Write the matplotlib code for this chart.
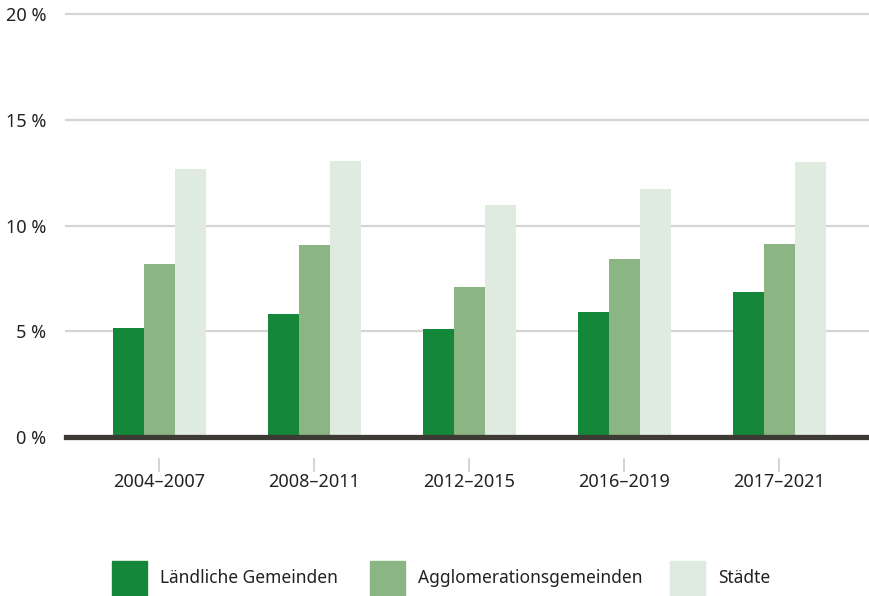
import matplotlib
matplotlib.use('Agg')
import matplotlib.pyplot as plt
import matplotlib.transforms as mtransforms
from matplotlib.patches import Rectangle
import numpy as np

plt.rcParams['font.family'] = ['Noto Sans', 'DejaVu Sans']

periods = ['2004–2007', '2008–2011', '2012–2015', '2016–2019', '2017–2021']
series_names = ['Ländliche Gemeinden', 'Agglomerationsgemeinden', 'Städte']
laendlich = [5.15, 5.82, 5.11, 5.91, 6.86]
agglo = [8.18, 9.08, 7.09, 8.42, 9.13]
staedte = [12.67, 13.05, 10.97, 11.73, 13.0]
colors = ['#15873a', '#8bb583', '#e0ebdf']

W, H = 870, 596
fig = plt.figure(figsize=(W / 100, H / 100), dpi=100)
ax = fig.add_axes([66 / W, (H - 437) / H, (870 - 66) / W, 423 / H])

x = np.arange(len(periods))
bw = 0.2
for i, (vals, c) in enumerate(zip([laendlich, agglo, staedte], colors)):
    ax.bar(x + (i - 1) * bw, vals, width=bw, color=c, zorder=2, linewidth=0)

for yv in [5, 10, 15, 20]:
    ax.axhline(yv, color='#d6d3d3', lw=1.6, zorder=1, clip_on=False)
ax.axhline(0, color='#3d3935', lw=3.8, zorder=3, clip_on=False)

ax.set_xlim(-0.6, 4.587)
ax.set_ylim(0, 20)
ax.set_yticks([0, 5, 10, 15, 20])
ax.set_yticklabels(['0 %', '5 %', '10 %', '15 %', '20 %'])
ax.set_xticks(x)
ax.set_xticklabels(periods)
ax.tick_params(axis='y', length=0, pad=14, labelsize=13, labelcolor='#222222')
ax.tick_params(axis='x', length=0, pad=26, labelsize=13, labelcolor='#222222')
for s in ax.spines.values():
    s.set_visible(False)

# small gray tick marks below the axis
trans = mtransforms.blended_transform_factory(ax.transData, ax.transAxes)
for xi in x:
    ax.plot([xi, xi], [-22 / 423, -34 / 423], color='#cccccc', lw=1.2,
            transform=trans, clip_on=False)

# legend
leg_x = [112, 370, 670]
for lx, name, c in zip(leg_x, series_names, colors):
    fig.patches.append(Rectangle((lx / W, 0), 35 / W, 35 / H, color=c,
                                 transform=fig.transFigure, figure=fig))
    fig.text((lx + 48) / W, 18 / H, name, fontsize=12.5, color='#222222',
             va='center', ha='left')

fig.savefig('out.png', dpi=100)
